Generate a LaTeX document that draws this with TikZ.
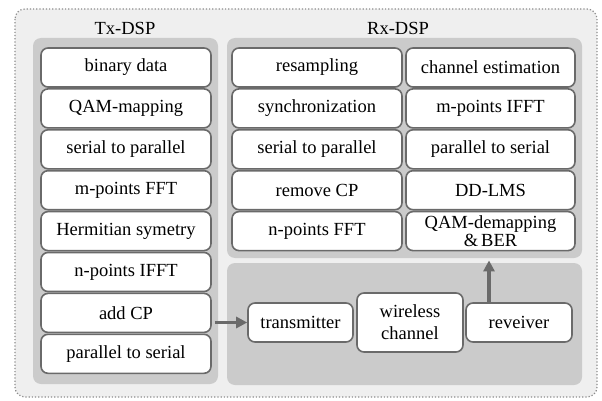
\documentclass[tikz,border=0pt]{standalone}
\usepackage{fontspec}
\setmainfont{Liberation Serif}
\usetikzlibrary{arrows.meta}
\definecolor{outerbg}{HTML}{EFEFEF}
\definecolor{panelbg}{HTML}{CBCBCB}
\definecolor{boxline}{HTML}{6A6A6A}
\definecolor{arrowc}{HTML}{6A6A6A}
\definecolor{dotc}{HTML}{8C8C8C}
\tikzset{
  stepbox/.style={draw=boxline, line width=1.6pt, fill=white, rounded corners=7pt,
    minimum height=39pt, inner sep=0pt, align=center,
    font=\fontsize{18.5}{19}\selectfont},
  panel/.style={fill=panelbg, rounded corners=8pt},
  title/.style={font=\fontsize{18.5}{19}\selectfont, inner sep=0pt},
  flow/.style={draw=arrowc, line width=3.5pt, -{Triangle[length=11pt,width=11pt]}}
}
\begin{document}
\begin{tikzpicture}[x=1pt,y=-1pt]
\useasboundingbox (0,0) rectangle (602,401);
\fill[white] (0,0) rectangle (602,401);
% outer frame
\draw[dotc, fill=outerbg, dotted, line width=1.2pt, rounded corners=10pt] (15,9) rectangle (597,397);
% panels
\fill[panel] (33,38) rectangle (218,384);
\fill[panel] (227,38) rectangle (582,258);
\fill[panel] (227,263) rectangle (582,385);
% titles
\node[title] (txt) at (125,28) {Tx-DSP};
\node[title] (rxt) at (398,28) {Rx-DSP};
% Tx column
\node[stepbox, minimum width=170pt] (t1) at (126,67.5) {binary data};
\node[stepbox, minimum width=170pt] (t2) at (126,108.4) {QAM-mapping};
\node[stepbox, minimum width=170pt] (t3) at (126,149.3) {serial to parallel};
\node[stepbox, minimum width=170pt] (t4) at (126,190.2) {m-points FFT};
\node[stepbox, minimum width=170pt] (t5) at (126,231.1) {Hermitian symetry};
\node[stepbox, minimum width=170pt] (t6) at (126,272) {n-points IFFT};
\node[stepbox, minimum width=170pt] (t7) at (126,312.9) {add CP};
\node[stepbox, minimum width=170pt] (t8) at (126,353.8) {parallel to serial};
% Rx left column
\node[stepbox, minimum width=170pt] (r1) at (317,67.5) {resampling};
\node[stepbox, minimum width=170pt] (r2) at (317,108.4) {synchronization};
\node[stepbox, minimum width=170pt] (r3) at (317,149.3) {serial to parallel};
\node[stepbox, minimum width=170pt] (r4) at (317,190.2) {remove CP};
\node[stepbox, minimum width=170pt] (r5) at (317,231.1) {n-points FFT};
% Rx right column
\node[stepbox, minimum width=169pt] (s1) at (490.5,67.5) {channel estimation};
\node[stepbox, minimum width=169pt] (s2) at (490.5,108.4) {m-points IFFT};
\node[stepbox, minimum width=169pt] (s3) at (490.5,149.3) {parallel to serial};
\node[stepbox, minimum width=169pt] (s4) at (490.5,190.2) {DD-LMS};
\node[stepbox, minimum width=169pt] (s5) at (490.5,231.1) {QAM-demapping\\[-1pt]\&\,BER};
% bottom chain
\node[stepbox, minimum width=105pt] (tx) at (300.5,322.5) {transmitter};
\node[stepbox, minimum width=106pt, minimum height=59pt,
  font=\fontsize{18.5}{22}\selectfont] (wc) at (410,322.5) {wireless\\channel};
\node[stepbox, minimum width=106pt] (rx) at (519,322.5) {reveiver};
% arrows
\draw[flow, shorten <=3pt] (t7.east |- tx.west) -- (tx.west);
\draw[flow, shorten >=9pt] (rx.north -| s5.south) ++(-1.5,0) coordinate (rxn) -- (rxn |- s5.south);
\end{tikzpicture}
\end{document}
